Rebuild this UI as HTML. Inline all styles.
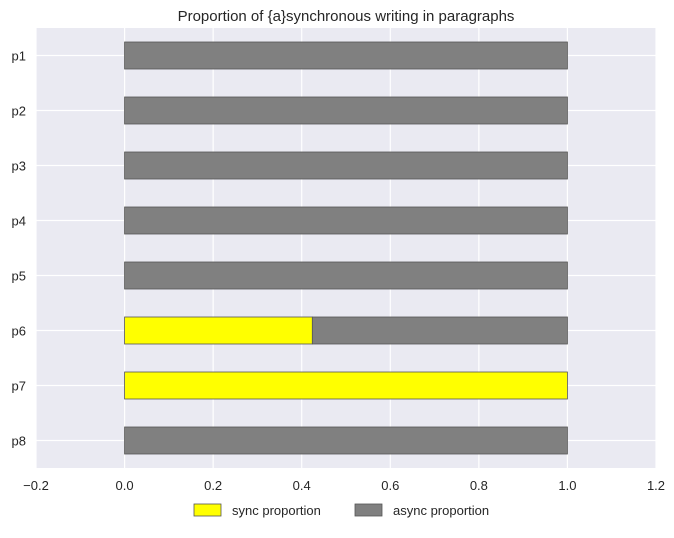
<!DOCTYPE html>
<html><head><meta charset="utf-8"><style>
body{margin:0;background:#fff;font-family:"Liberation Sans",Arial,sans-serif;}
svg text{font-family:"Liberation Sans",Arial,sans-serif;fill:#262626;}
</style></head><body>
<svg id="chart" width="674" height="533"></svg>
<script>
const categories=["p1","p2","p3","p4","p5","p6","p7","p8"];
const syncValues=[0,0,0,0,0,0.424,1,0];
const asyncValues=[1,1,1,1,1,0.576,0,1];
const xTicks=[-0.2,0,0.2,0.4,0.6,0.8,1.0,1.2];
const xTickLabels=["\u22120.2","0.0","0.2","0.4","0.6","0.8","1.0","1.2"];

const NS="http://www.w3.org/2000/svg";
const svg=document.getElementById('chart');
const L=36,R=656,T=28,B=468;
const xMin=-0.2,xMax=1.2;
const x=v=>L+(v-xMin)/(xMax-xMin)*(R-L);
const band=(B-T)/categories.length;
const yc=i=>T+band*(i+0.5);
const bh=27;
function mk(tag,attrs,parent){const e=document.createElementNS(NS,tag);for(const k in attrs)e.setAttribute(k,attrs[k]);(parent||svg).appendChild(e);return e;}

const bg=mk('rect',{x:L,y:T,width:R-L,height:B-T,fill:'#eaeaf2'});



xTicks.forEach((t,i)=>{
  const g=mk('line',{x1:x(t),x2:x(t),y1:T,y2:B,stroke:'#fff','stroke-width':1.2});
  
  
  const tl=mk('text',{x:x(t),y:B+22,'text-anchor':'middle','font-size':13});
  tl.textContent=xTickLabels[i];
  
  
});
categories.forEach((c,i)=>{
  const g=mk('line',{x1:L,x2:R,y1:yc(i),y2:yc(i),stroke:'#fff','stroke-width':1.2});
  
  
  const tl=mk('text',{x:L-10,y:yc(i)+5,'text-anchor':'end','font-size':13});
  tl.textContent=c;
  
  
});
categories.forEach((c,i)=>{
  const s=syncValues[i],a=asyncValues[i];
  const r1=mk('rect',{x:x(0),y:yc(i)-bh/2,width:x(s)-x(0),height:bh,fill:'#ffff00',stroke:'#555','stroke-width':0.8});
  
  
  const r2=mk('rect',{x:x(s),y:yc(i)-bh/2,width:x(s+a)-x(s),height:bh,fill:'#808080',stroke:'#555','stroke-width':0.8});
  
  
});
const title=mk('text',{x:(L+R)/2,y:21,'text-anchor':'middle','font-size':15});
title.textContent='Proportion of {a}synchronous writing in paragraphs';



const legend=mk('g',{});


const items=[["sync proportion","#ffff00",194],["async proportion","#808080",355]];
items.forEach(it=>{
  const r=mk('rect',{x:it[2],y:504,width:27,height:12,fill:it[1],stroke:'#555','stroke-width':0.8},legend);
  
  
  const t=mk('text',{x:it[2]+38,y:515,'font-size':13},legend);
  t.textContent=it[0];
  
  
});
</script>
</body></html>
